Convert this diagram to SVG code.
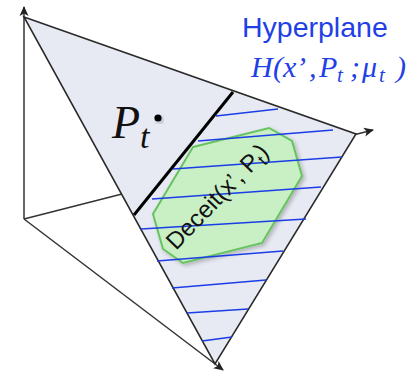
<svg xmlns="http://www.w3.org/2000/svg" width="418" height="372" viewBox="0 0 418 372">
<defs>
<marker id="arr" viewBox="0 0 10 10" refX="9" refY="5" markerWidth="10" markerHeight="10" markerUnits="userSpaceOnUse" orient="auto">
<path d="M0,0.5 L10,5 L0,9.5 L2.5,5 Z" fill="#222"/>
</marker>
<filter id="sh" x="-20%" y="-20%" width="140%" height="140%">
<feGaussianBlur in="SourceAlpha" stdDeviation="2"/>
<feOffset dx="2" dy="2" result="b"/>
<feComponentTransfer><feFuncA type="linear" slope="0.25"/></feComponentTransfer>
<feMerge><feMergeNode/><feMergeNode in="SourceGraphic"/></feMerge>
</filter>
</defs>
<style>
.axis{stroke:#333;stroke-width:1.5;fill:none}
.edge{fill:#e8eaf3;stroke:#2a2a2a;stroke-width:1.6;stroke-linejoin:miter}
.hatch{stroke:#1a3de6;stroke-width:1.5}
.blue{fill:#1f40e6;font-family:"Liberation Sans",Arial,sans-serif}
.math{fill:#1f40e6;font-family:"Liberation Serif","Times New Roman",serif;font-style:italic}
</style>
<g id="connectors">
<line class="axis" x1="24" y1="219" x2="24" y2="7" marker-end="url(#arr)"/>
<line class="axis" x1="24" y1="219" x2="373" y2="130" marker-end="url(#arr)"/>
<line class="axis" x1="24" y1="219" x2="223" y2="370" marker-end="url(#arr)"/>
</g>
<g id="simplex">
<polygon class="edge" points="24,17 356,134 215,364"/>
</g>
<g id="deceit-region">
<polygon points="193,147 269,128 292,141 302,176 262,243 183,263 163,249 153,214" fill="#c9efc5" stroke="#66c35e" stroke-width="2" filter="url(#sh)"/>
</g>
<g id="hatching">
<line class="hatch" x1="216" y1="116" x2="278" y2="109"/>
<line class="hatch" x1="198" y1="141" x2="333" y2="130"/>
<line class="hatch" x1="173" y1="169" x2="342" y2="157"/>
<line class="hatch" x1="152" y1="199" x2="321" y2="187"/>
<line class="hatch" x1="141" y1="229" x2="306" y2="219"/>
<line class="hatch" x1="157" y1="261" x2="283" y2="251"/>
<line class="hatch" x1="172" y1="288" x2="266" y2="280"/>
<line class="hatch" x1="187" y1="313" x2="248" y2="309"/>
<line class="hatch" x1="202" y1="341" x2="232" y2="337"/>
</g>
<g id="hyperplane">
<line x1="233" y1="92" x2="134" y2="215" stroke="#000" stroke-width="3"/>
</g>
<g id="deceit-label">
<text transform="translate(176,251) rotate(-46)" font-family="'Liberation Sans',Arial,sans-serif" font-size="24" fill="#111">Deceit(x’, P<tspan font-size="17" dy="5">t</tspan><tspan dy="-5">)</tspan></text>
</g>
<g id="pt-point">
<text x="112" y="138" font-family="'Liberation Serif','Times New Roman',serif" font-style="italic" font-size="46" fill="#111">P<tspan font-size="34" dy="10">t</tspan></text>
<circle cx="158" cy="118" r="3.6" fill="#000" filter="url(#sh)"/>
</g>
<g id="hyperplane-label">
<text class="blue" x="242" y="37" font-size="28.5">Hyperplane</text>
<text class="math" y="77" font-size="30"><tspan x="251">H</tspan><tspan x="273">(</tspan><tspan x="283">x</tspan><tspan x="296">’</tspan><tspan x="309">,</tspan><tspan x="319">P</tspan><tspan x="337" y="82" font-size="21">t</tspan><tspan x="350" y="77">;</tspan><tspan x="362">μ</tspan><tspan x="379" y="82" font-size="21">t</tspan><tspan x="396" y="77">)</tspan></text>
</g>
</svg>
